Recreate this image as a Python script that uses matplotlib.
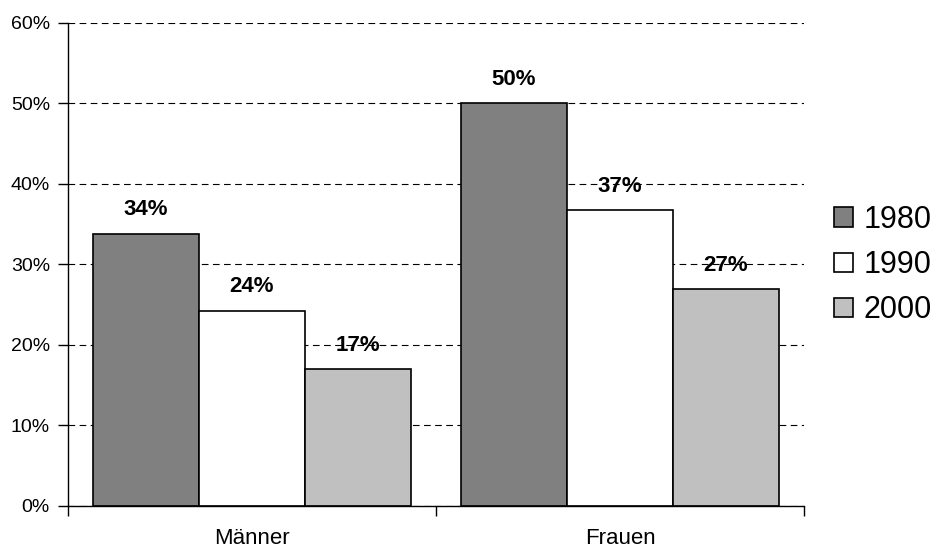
import matplotlib.pyplot as plt
import numpy as np

plt.rcParams['font.family'] = ['Liberation Sans', 'DejaVu Sans']

# data
categories = ['Männer', 'Frauen']
years = ['1980', '1990', '2000']
values = {
    '1980': [33.8, 50.0],
    '1990': [24.2, 36.7],
    '2000': [17.0, 26.9],
}
labels = {
    '1980': ['34%', '50%'],
    '1990': ['24%', '37%'],
    '2000': ['17%', '27%'],
}
colors = ['#808080', '#ffffff', '#c0c0c0']

fig = plt.figure(figsize=(9.39, 5.51), dpi=100)
ax = fig.add_axes([68/939, 1-506/551, (804-68)/939, (506-22.5)/551])

x = np.arange(len(categories))
width = 0.288
for i, yr in enumerate(years):
    pos = x + (i-1)*width
    bars = ax.bar(pos, values[yr], width, color=colors[i], edgecolor='black',
                  linewidth=1.2, label=yr, zorder=2)
    for b, lab in zip(bars, labels[yr]):
        ax.annotate(lab, (b.get_x()+b.get_width()/2, b.get_height()),
                    xytext=(0, 24), textcoords='offset pixels',
                    ha='center', va='center', fontsize=16, fontweight='bold', zorder=3)

ax.set_xlim(-0.5, 1.5)
ax.set_ylim(0, 60)
ax.set_yticks(np.arange(0, 61, 10))
ax.set_yticklabels(['%d%%' % v for v in range(0, 61, 10)], fontsize=14)
ax.yaxis.grid(True, linestyle=(0, (6, 4)), color='black', linewidth=0.8, zorder=0)
ax.set_axisbelow(True)

ax.set_xticks(x)
ax.set_xticklabels(categories, fontsize=16)
ax.set_xticks([-0.5, 0.5, 1.5], minor=True)
ax.tick_params(axis='x', which='major', length=0, pad=16)
ax.tick_params(axis='x', which='minor', length=7, width=1, direction='out')
ax.tick_params(axis='y', length=7, width=1, pad=6)

for s in ['top', 'right']:
    ax.spines[s].set_visible(False)
for s in ['left', 'bottom']:
    ax.spines[s].set_linewidth(1)

fig.legend(loc='center left', bbox_to_anchor=(822/939, 1-265/551), frameon=False,
           fontsize=22, handlelength=0.6, handleheight=0.6, handletextpad=0.35,
           labelspacing=0.5, borderaxespad=0)

plt.savefig('out.png', dpi=100)
